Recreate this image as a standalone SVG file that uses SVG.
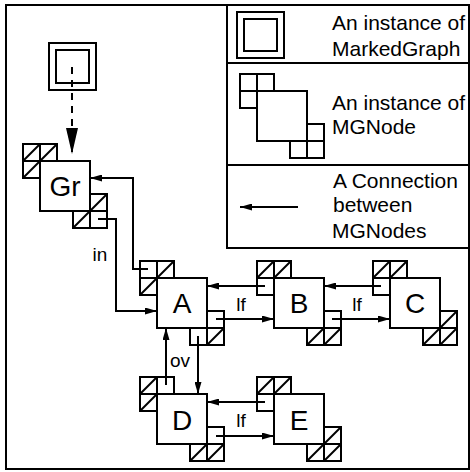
<svg xmlns="http://www.w3.org/2000/svg" xmlns:xlink="http://www.w3.org/1999/xlink" width="470" height="472" viewBox="0 0 470 472">
<style>
.frame{fill:#fff;stroke:#000;stroke-width:2}
.ln{fill:none;stroke:#000;stroke-width:2}
.box{fill:#fff;stroke:#000;stroke-width:2}
.conn{fill:none;stroke:#000;stroke-width:2;marker-end:url(#arr)}
.dash{fill:none;stroke:#000;stroke-width:2;stroke-dasharray:7 6;marker-end:url(#bigarr)}
text{font-family:"Liberation Sans",Arial,Helvetica,sans-serif;fill:#000}
.leg{font-size:21px}
.lbl{font-size:19px;text-anchor:middle}
.nl{font-size:28px;text-anchor:middle}
</style>
<defs>
<marker id="arr" viewBox="0 0 12 7" refX="12" refY="3.5" markerWidth="12" markerHeight="7" markerUnits="userSpaceOnUse" orient="auto">
<path d="M0,0 L12,3.5 L0,7 Z" fill="#000" stroke="none"/>
</marker>
<marker id="bigarr" viewBox="0 0 26 12" refX="26" refY="6" markerWidth="26" markerHeight="12" markerUnits="userSpaceOnUse" orient="auto">
<path d="M0,0 L26,6 L0,12 Z" fill="#000" stroke="none"/>
</marker>
<g id="cd"><rect width="17" height="17" class="box"/><path d="M0,17 L17,0" class="ln"/></g>
<g id="ce"><rect width="17" height="17" class="box"/></g>
</defs>

<rect x="6" y="5" width="463" height="464" class="frame"/>

<g id="legend">
<rect x="227" y="5" width="242" height="243" class="ln"/>
<path d="M227,63 H469 M227,165 H469" class="ln"/>
<rect x="237" y="12" width="47" height="46" class="ln"/>
<rect x="244" y="19" width="33" height="32" class="ln"/>
<text class="leg" x="332" y="30">An instance of</text>
<text class="leg" x="332" y="56">MarkedGraph</text>
<use xlink:href="#ce" x="240" y="74"/>
<use xlink:href="#ce" x="257" y="74"/>
<use xlink:href="#ce" x="240" y="91"/>
<use xlink:href="#ce" x="307" y="124"/>
<use xlink:href="#ce" x="290" y="141"/>
<use xlink:href="#ce" x="307" y="141"/>
<rect x="257" y="91" width="50" height="50" class="box"/>
<text class="leg" x="332" y="110">An instance of</text>
<text class="leg" x="332" y="134">MGNode</text>
<path d="M298,207 H240" class="conn"/>
<text class="leg" x="333" y="188">A Connection</text>
<text class="leg" x="333" y="212">between</text>
<text class="leg" x="332" y="238">MGNodes</text>
</g>

<g id="markedgraph">
<rect x="49" y="43" width="47" height="47" class="ln"/>
<rect x="56" y="50" width="33" height="33" class="ln"/>
</g>

<g id="Gr">
<use xlink:href="#cd" x="23" y="144"/>
<use xlink:href="#cd" x="40" y="144"/>
<use xlink:href="#cd" x="23" y="161"/>
<use xlink:href="#cd" x="90" y="194"/>
<use xlink:href="#cd" x="73" y="211"/>
<use xlink:href="#ce" x="90" y="211"/>
<rect x="40" y="161" width="50" height="50" class="box"/>
<text class="nl" x="65" y="196">Gr</text>
</g>

<g id="A">
<use xlink:href="#ce" x="140" y="261"/>
<use xlink:href="#cd" x="157" y="261"/>
<use xlink:href="#cd" x="140" y="278"/>
<use xlink:href="#ce" x="207" y="311"/>
<use xlink:href="#ce" x="190" y="328"/>
<use xlink:href="#cd" x="207" y="328"/>
<rect x="157" y="278" width="50" height="50" class="box"/>
<text class="nl" x="182" y="313">A</text>
</g>

<g id="B">
<use xlink:href="#cd" x="257" y="261"/>
<use xlink:href="#cd" x="274" y="261"/>
<use xlink:href="#ce" x="257" y="278"/>
<use xlink:href="#ce" x="324" y="311"/>
<use xlink:href="#cd" x="307" y="328"/>
<use xlink:href="#cd" x="324" y="328"/>
<rect x="274" y="278" width="50" height="50" class="box"/>
<text class="nl" x="299" y="313">B</text>
</g>

<g id="C">
<use xlink:href="#cd" x="373" y="261"/>
<use xlink:href="#cd" x="390" y="261"/>
<use xlink:href="#ce" x="373" y="278"/>
<use xlink:href="#cd" x="440" y="311"/>
<use xlink:href="#cd" x="423" y="328"/>
<use xlink:href="#cd" x="440" y="328"/>
<rect x="390" y="278" width="50" height="50" class="box"/>
<text class="nl" x="415" y="313">C</text>
</g>

<g id="D">
<use xlink:href="#cd" x="140" y="377"/>
<use xlink:href="#ce" x="157" y="377"/>
<use xlink:href="#cd" x="140" y="394"/>
<use xlink:href="#ce" x="207" y="427"/>
<use xlink:href="#cd" x="190" y="444"/>
<use xlink:href="#cd" x="207" y="444"/>
<rect x="157" y="394" width="50" height="50" class="box"/>
<text class="nl" x="182" y="430">D</text>
</g>

<g id="E">
<use xlink:href="#cd" x="257" y="377"/>
<use xlink:href="#cd" x="274" y="377"/>
<use xlink:href="#ce" x="257" y="394"/>
<use xlink:href="#cd" x="324" y="427"/>
<use xlink:href="#cd" x="307" y="444"/>
<use xlink:href="#cd" x="324" y="444"/>
<rect x="274" y="394" width="50" height="50" class="box"/>
<text class="nl" x="299" y="430">E</text>
</g>

<g id="connectors">
<path d="M72,67 V154" class="dash"/>
<path d="M98,219 H116 V311 H157" class="conn"/>
<path d="M148,269 H133 V178 H90" class="conn"/>
<path d="M216,319 H274" class="conn"/>
<path d="M265,286 H207" class="conn"/>
<path d="M332,319 H390" class="conn"/>
<path d="M381,286 H324" class="conn"/>
<path d="M198,336 V394" class="conn"/>
<path d="M166,385 V328" class="conn"/>
<path d="M216,436 H274" class="conn"/>
<path d="M265,402 H207" class="conn"/>
<text class="lbl" x="100" y="261">in</text>
<text class="lbl" x="241" y="311">lf</text>
<text class="lbl" x="357" y="311">lf</text>
<text class="lbl" x="180" y="367">ov</text>
<text class="lbl" x="241" y="427">lf</text>
</g>
</svg>
